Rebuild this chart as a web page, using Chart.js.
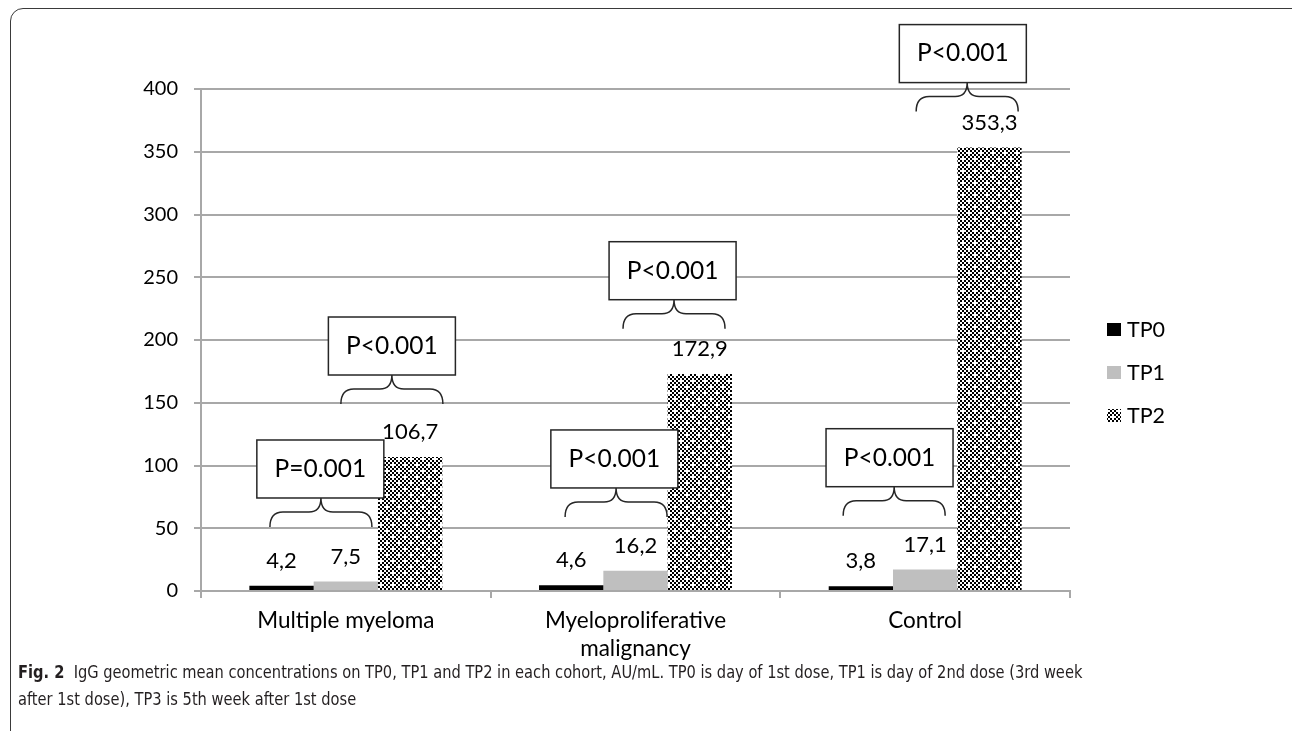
<!DOCTYPE html>
<html><head><meta charset="utf-8">
<script src="https://cdn.jsdelivr.net/npm/chart.js@4.4.1/dist/chart.umd.min.js"></script>
<style>
html,body{margin:0;padding:0;background:#fff;width:1292px;height:731px;overflow:hidden;}
#frame{position:absolute;left:10px;top:8px;width:1300px;height:745px;border:1.5px solid #3a3a3a;border-radius:13px;box-sizing:border-box;}
#c{position:absolute;left:0;top:0;}
#cap{position:absolute;left:18px;top:659px;font-family:"Liberation Sans Narrow","DejaVu Sans Condensed",sans-serif;font-size:17.5px;line-height:27px;color:#231f20;white-space:nowrap;transform:scaleX(0.93);transform-origin:0 0;}
</style></head><body>
<div id="frame"></div>
<canvas id="c" width="1292" height="731"></canvas>
<div id="cap"><b>Fig. 2</b>&nbsp; IgG geometric mean concentrations on TP0, TP1 and TP2 in each cohort, AU/mL. TP0 is day of 1st dose, TP1 is day of 2nd dose (3rd week<br>after 1st dose), TP3 is 5th week after 1st dose</div>
<script>
// ---- data ----
const categories = [['Multiple myeloma'], ['Myeloproliferative', 'malignancy'], ['Control']];
const seriesNames = ['TP0', 'TP1', 'TP2'];
const tp0 = [4.2, 4.6, 3.8];
const tp1 = [7.5, 16.2, 17.1];
const tp2 = [106.7, 172.9, 353.3];
const yTicks = [0, 50, 100, 150, 200, 250, 300, 350, 400];
const pTexts = ['P=0.001', 'P<0.001', 'P<0.001', 'P<0.001', 'P<0.001', 'P<0.001'];

// ---- annotation layout (category-axis x, value-axis y of brace foot) ----
const bracketLayout = [
  {x: -0.086, boxX: -0.088, y: 51},
  {x: 0.159, boxX: 0.159, y: 149},
  {x: 0.933, boxX: 0.927, y: 59},
  {x: 1.133, boxX: 1.128, y: 209},
  {x: 1.893, boxX: 1.877, y: 60},
  {x: 2.145, boxX: 2.130, y: 382}
];

const FONT = 'Lato, "Open Sans", sans-serif';

function makePattern() {
  const t = document.createElement('canvas');
  t.width = 12; t.height = 12;
  const g = t.getContext('2d');
  g.fillStyle = '#fff'; g.fillRect(0, 0, 12, 12);
  g.fillStyle = '#000';
  for (let y = 0; y < 12; y += 2)
    for (let x = 0; x < 12; x += 2)
      if (((x + y) / 2) % 2 === 0) g.fillRect(x, y, 2, 2);
  g.fillStyle = '#fff';
  [[2, 2], [8, 8]].forEach(([x, y]) => { g.fillRect(x - 1, y, 4, 2); g.fillRect(x, y - 1, 2, 4); });
  return g.createPattern(t, 'repeat');
}
const pattern = makePattern();
const colors = ['#000000', '#bfbfbf', pattern];
const seriesData = [tp0, tp1, tp2];

const fmt = v => v.toFixed(1).replace('.', ',');

const labelPlugin = {
  id: 'valueLabels',
  afterDatasetsDraw(chart) {
    const ctx = chart.ctx;
    ctx.save();
    ctx.font = '22px ' + FONT;
    ctx.fillStyle = '#000';
    ctx.textAlign = 'center';
    ctx.textBaseline = 'middle';
    chart.data.datasets.forEach((ds, i) => {
      chart.getDatasetMeta(i).data.forEach((el, j) => {
        ctx.fillText(fmt(ds.data[j]), el.x, el.y - 25);
      });
    });
    ctx.restore();
  }
};

const bracketPlugin = {
  id: 'brackets',
  afterDatasetsDraw(chart) {
    const ctx = chart.ctx, xs = chart.scales.x, ys = chart.scales.y;
    ctx.save();
    bracketLayout.forEach((b, i) => {
      const xc = xs.getPixelForValue(b.x);
      const yB = ys.getPixelForValue(b.y);
      const yT = yB - 29, yM = yB - 15;
      const w = 102, xL = xc - w / 2, xR = xc + w / 2;
      ctx.strokeStyle = '#262626';
      ctx.lineWidth = 1.5;
      ctx.beginPath();
      ctx.moveTo(xL, yB);
      ctx.quadraticCurveTo(xL, yM, xL + 13, yM);
      ctx.lineTo(xc - 12, yM);
      ctx.quadraticCurveTo(xc, yM, xc, yT);
      ctx.quadraticCurveTo(xc, yM, xc + 12, yM);
      ctx.lineTo(xR - 13, yM);
      ctx.quadraticCurveTo(xR, yM, xR, yB);
      ctx.stroke();
      const bx = xs.getPixelForValue(b.boxX);
      const bw = 127, bh = 58;
      ctx.fillStyle = '#fff';
      ctx.fillRect(bx - bw / 2, yT - bh, bw, bh);
      ctx.strokeRect(bx - bw / 2, yT - bh, bw, bh);
      ctx.fillStyle = '#000';
      ctx.font = '24.5px ' + FONT;
      ctx.textAlign = 'center';
      ctx.textBaseline = 'middle';
      ctx.fillText(pTexts[i], bx, yT - bh / 2);
    });
    ctx.restore();
  }
};

const legendPlugin = {
  id: 'sideLegend',
  afterDraw(chart) {
    const ctx = chart.ctx;
    ctx.save();
    ctx.font = '21.5px ' + FONT;
    ctx.textBaseline = 'middle';
    ctx.textAlign = 'left';
    chart.data.datasets.forEach((ds, i) => {
      const yc = 330 + i * 43;
      ctx.fillStyle = ds.backgroundColor;
      ctx.fillRect(1107, yc - 7, 14, 13);
      ctx.fillStyle = '#000';
      ctx.fillText(ds.label, 1127, yc);
    });
    ctx.restore();
  }
};

new Chart(document.getElementById('c'), {
  type: 'bar',
  data: {
    labels: categories,
    datasets: seriesNames.map((n, i) => ({
      label: n, data: seriesData[i], backgroundColor: colors[i], borderWidth: 0,
      categoryPercentage: 0.666, barPercentage: 1
    }))
  },
  options: {
    responsive: false, animation: false, devicePixelRatio: 1,
    layout: {padding: {left: 0, top: 89, right: 222, bottom: 60}},
    plugins: {legend: {display: false}, tooltip: {enabled: false}},
    scales: {
      x: {
        grid: {display: true, drawOnChartArea: false, tickLength: 7, color: '#a8a8a8', lineWidth: 2, offset: true},
        border: {display: true, color: '#a8a8a8', width: 2},
        ticks: {font: {family: FONT, size: 22.5, lineHeight: 1.24}, color: '#000', padding: 9, maxRotation: 0, autoSkip: false},
        afterFit(s) { s.height = 80; }
      },
      y: {
        min: 0, max: 400,
        afterBuildTicks(s) { s.ticks = yTicks.map(v => ({value: v})); },
        ticks: {font: {family: FONT, size: 20}, color: '#000', padding: 16},
        grid: {color: '#a8a8a8', lineWidth: 2, tickLength: 7},
        border: {color: '#a8a8a8', width: 2},
        afterFit(s) { s.width = 201; }
      }
    }
  },
  plugins: [labelPlugin, bracketPlugin, legendPlugin]
});
</script>
</body></html>
